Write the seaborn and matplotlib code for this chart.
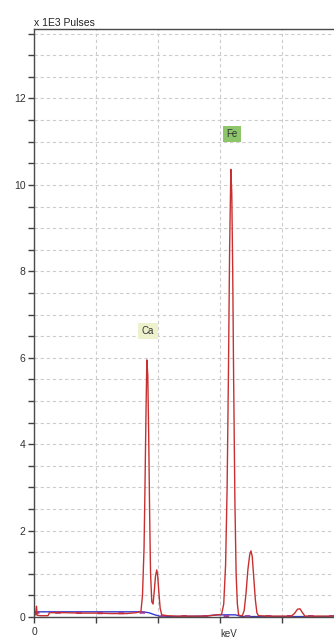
import matplotlib
matplotlib.use("Agg")
import matplotlib.pyplot as plt
import seaborn as sns
import pandas as pd
from matplotlib.ticker import MultipleLocator

# Measured spectrum (energy in keV, counts in thousands of pulses)
spec_kev = [0.00, 0.05, 0.08, 0.10, 0.20, 0.45, 0.50, 1.00, 1.50, 2.00, 2.50, 3.00, 3.30, 3.45,
            3.50, 3.55, 3.58, 3.61, 3.64, 3.67, 3.70, 3.73, 3.76, 3.80, 3.84, 3.88, 3.92,
            3.96, 3.99, 4.03, 4.07, 4.12, 4.30, 4.60, 5.00, 5.50, 5.80, 6.05, 6.12, 6.18,
            6.23, 6.27, 6.31, 6.35, 6.38, 6.41, 6.44, 6.48, 6.52, 6.56, 6.60, 6.66, 6.72,
            6.78, 6.84, 6.90, 6.96, 7.00, 7.04, 7.09, 7.14, 7.19, 7.24, 7.60, 8.00, 8.30,
            8.40, 8.50, 8.58, 8.66, 8.74, 9.00, 9.50, 10.00]
spec_counts = [0.05, 0.05, 0.25, 0.04, 0.03, 0.03, 0.10, 0.10, 0.09, 0.09, 0.08, 0.08, 0.10, 0.13,
               0.50, 1.60, 3.00, 4.60, 5.95, 5.60, 4.20, 2.40, 1.00, 0.35, 0.30, 0.60, 0.95,
               1.09, 0.95, 0.55, 0.20, 0.05, 0.03, 0.02, 0.02, 0.02, 0.04, 0.06, 0.30, 1.20,
               3.00, 5.50, 8.50, 10.36, 9.80, 8.00, 5.50, 2.70, 1.00, 0.30, 0.05, 0.03, 0.03,
               0.15, 0.55, 1.10, 1.45, 1.53, 1.40, 0.90, 0.40, 0.10, 0.03, 0.02, 0.02, 0.02,
               0.08, 0.18, 0.19, 0.10, 0.02, 0.02, 0.02, 0.02]

# Background estimate
bg_kev = [0.00, 1.00, 2.00, 3.00, 3.50, 3.70, 3.90, 4.10, 4.40, 5.50, 5.90, 6.50, 6.70, 8.00, 10.00]
bg_counts = [0.12, 0.12, 0.12, 0.12, 0.12, 0.10, 0.05, 0.01, 0.01, 0.02, 0.05, 0.05, 0.01, 0.01, 0.01]

# Fitted baseline
fit_kev = [0.00, 0.50, 1.00, 2.00, 3.00, 3.40, 3.60, 4.10, 5.00, 6.00, 7.00, 8.00, 9.00, 10.00]
fit_counts = [0.10, 0.10, 0.10, 0.09, 0.09, 0.10, 0.10, 0.02, 0.02, 0.02, 0.02, 0.02, 0.02, 0.02]

# Element markers
elements = ["Ca", "Fe"]
element_kev = [3.68, 6.39]
element_label_y = [6.62, 11.18]
element_colors = ["#eef2cc", "#8cc56a"]

y_ticks = [0, 2, 4, 6, 8, 10, 12]
x_ticks = [0, 2, 4, 6, 8, 10]
x_tick_labels = ["0", "", "", "", "", ""]

sns.set_style("white")
plt.rcParams["font.family"] = ["Liberation Sans", "DejaVu Sans"]

fig = plt.figure(figsize=(3.34, 6.39), dpi=100)
ax = fig.add_axes([34 / 334, 22 / 639, 310 / 334, 588.5 / 639])

grid_kw = dict(color="#cccccc", linewidth=0.8, linestyle=(0, (3, 2.5)))
ax.set_axisbelow(True)

spec = pd.DataFrame({"keV": spec_kev, "counts": spec_counts})
bg = pd.DataFrame({"keV": bg_kev, "counts": bg_counts})
fit = pd.DataFrame({"keV": fit_kev, "counts": fit_counts})

sns.lineplot(data=bg, x="keV", y="counts", ax=ax, color="#3a3acc", linewidth=1.0,
             estimator=None, sort=False)
sns.lineplot(data=fit, x="keV", y="counts", ax=ax, color="#a040a0", linewidth=1.6,
             linestyle=(0, (2.5, 7)), estimator=None, sort=False)
sns.lineplot(data=spec, x="keV", y="counts", ax=ax, color="#c83030", linewidth=1.0,
             estimator=None, sort=False)

ax.set_xlim(0, 10)
ax.set_ylim(0, 13.62)

ax.yaxis.set_major_locator(MultipleLocator(2))
ax.yaxis.set_minor_locator(MultipleLocator(0.5))
ax.set_yticks(y_ticks)
ax.set_yticklabels([str(v) for v in y_ticks])
ax.set_xticks(x_ticks)
ax.set_xticklabels(x_tick_labels)

ax.yaxis.grid(True, which="both", **grid_kw)
ax.xaxis.grid(True, which="major", **grid_kw)

ax.tick_params(axis="y", which="both", direction="out", length=4, width=1,
               color="#404040", labelsize=7.5, labelcolor="#333333", left=True, pad=2)
ax.tick_params(axis="x", which="major", direction="out", length=4, width=1,
               color="#404040", labelsize=7.5, labelcolor="#333333", bottom=True, pad=3)

for side in ["left", "bottom", "top"]:
    ax.spines[side].set_color("#4a4a4a")
    ax.spines[side].set_linewidth(1.0)
ax.spines["right"].set_visible(False)

ax.set_ylabel("")
ax.set_xlabel("keV", fontsize=7, color="#333333")
ax.xaxis.set_label_coords((229 - 34) / 310, -0.021)
ax.xaxis.label.set_verticalalignment("top")

fig.text(34 / 334, 1 - 26 / 639, "x 1E3 Pulses", fontsize=7.5, color="#222222",
         ha="left", va="baseline")

for name, xk, yk, fc in zip(elements, element_kev, element_label_y, element_colors):
    ax.text(xk, yk, name, fontsize=7, color="#333333", ha="center", va="center",
            bbox=dict(boxstyle="square,pad=0.35", facecolor=fc, edgecolor="none"))

fig.savefig("out.png", dpi=100)
